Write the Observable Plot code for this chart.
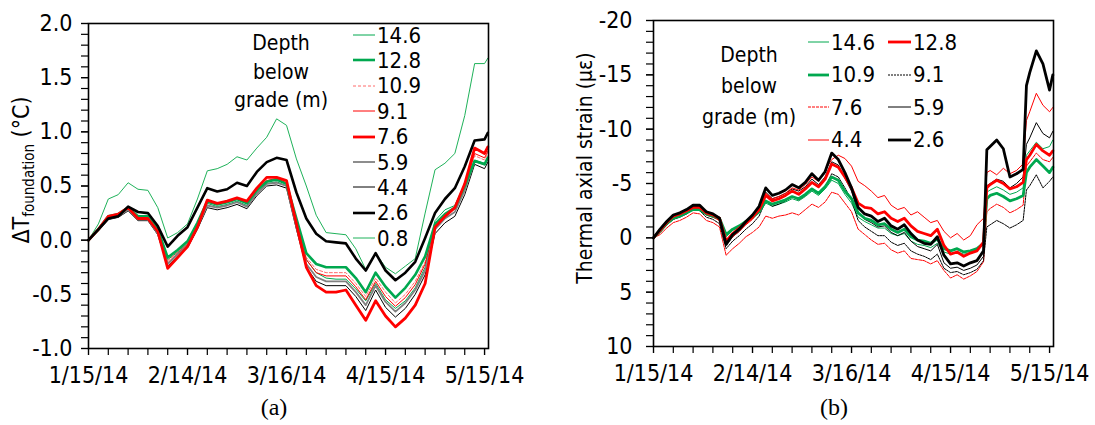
<!DOCTYPE html>
<html><head><meta charset="utf-8">
<script src="https://cdn.jsdelivr.net/npm/d3@7"></script>
<script src="https://cdn.jsdelivr.net/npm/@observablehq/plot@0.6"></script>
<style>
body{margin:0;background:#fff;}
#wrap{position:relative;width:1095px;height:425px;overflow:hidden;font-family:"DejaVu Sans",sans-serif;font-stretch:condensed;color:#000;background:#fff;}
.pan{position:absolute;}
.pan svg{overflow:visible;}
.lg{position:absolute;height:24px;display:flex;align-items:center;font-size:22px;white-space:nowrap;}
.lg svg{margin-right:2px;}
.hd{position:absolute;width:200px;text-align:center;font-size:21px;line-height:1;white-space:nowrap;}
.ttl{position:absolute;white-space:nowrap;transform:translate(-50%,-50%) rotate(-90deg);line-height:1;}
.cap{position:absolute;font-family:"Liberation Serif","Times New Roman",serif;font-stretch:normal;font-size:24px;transform:translateX(-50%);white-space:nowrap;}
</style></head><body><div id="wrap"></div>
<script>
// ---------- data ----------
const xTickLabels = ["1/15/14","2/14/14","3/16/14","4/15/14","5/15/14"];
const yTicksA = [-1, -0.5, 0, 0.5, 1, 1.5, 2];
const yTicksB = [-20, -15, -10, -5, 0, 5, 10];

// panel (a): days after 1/15/14
const daysA = [0,3,6,9,12,15,18,21,24,27,30,33,36,39,42,45,48,51,54,57,60,63,66,69,72,75,78,81,84,87,90,93,96,99,102,105,108,111,114,117,120,121];
const a146 = [0,0.1,0.21,0.23,0.29,0.21,0.21,0.09,-0.18,-0.11,-0.03,0.14,0.34,0.31,0.33,0.36,0.32,0.44,0.52,0.54,0.5,0.16,-0.18,-0.3,-0.35,-0.36,-0.36,-0.45,-0.56,-0.4,-0.55,-0.63,-0.56,-0.44,-0.25,0.18,0.28,0.32,0.52,0.74,0.71,0.77];
const a128 = [0,0.1,0.22,0.24,0.3,0.22,0.22,0.1,-0.16,-0.09,-0.01,0.16,0.36,0.33,0.35,0.38,0.34,0.46,0.54,0.56,0.52,0.2,-0.12,-0.22,-0.25,-0.25,-0.25,-0.35,-0.48,-0.3,-0.43,-0.53,-0.44,-0.32,-0.15,0.15,0.24,0.3,0.5,0.73,0.7,0.76];
const a109 = [0,0.1,0.22,0.24,0.3,0.21,0.21,0.09,-0.19,-0.11,-0.03,0.15,0.35,0.33,0.35,0.38,0.34,0.46,0.55,0.56,0.52,0.17,-0.16,-0.27,-0.3,-0.3,-0.3,-0.4,-0.52,-0.35,-0.48,-0.58,-0.5,-0.38,-0.2,0.14,0.24,0.3,0.52,0.78,0.74,0.8];
const a91 = [0,0.1,0.22,0.24,0.3,0.21,0.21,0.08,-0.21,-0.12,-0.04,0.14,0.35,0.33,0.35,0.38,0.34,0.46,0.55,0.57,0.53,0.16,-0.18,-0.3,-0.33,-0.33,-0.33,-0.43,-0.55,-0.38,-0.52,-0.61,-0.53,-0.41,-0.22,0.13,0.23,0.29,0.5,0.8,0.76,0.82];
const a76 = [0,0.1,0.22,0.24,0.3,0.2,0.2,0.08,-0.26,-0.16,-0.06,0.12,0.37,0.34,0.36,0.39,0.36,0.48,0.58,0.58,0.55,0.15,-0.25,-0.42,-0.48,-0.48,-0.46,-0.6,-0.74,-0.56,-0.7,-0.8,-0.72,-0.6,-0.4,0.12,0.22,0.3,0.52,0.85,0.8,0.86];
const a59 = [0,0.09,0.2,0.22,0.28,0.19,0.19,0.06,-0.22,-0.13,-0.05,0.12,0.32,0.3,0.32,0.35,0.31,0.43,0.52,0.53,0.5,0.12,-0.22,-0.34,-0.38,-0.38,-0.38,-0.48,-0.6,-0.42,-0.57,-0.66,-0.58,-0.46,-0.28,0.1,0.2,0.26,0.46,0.73,0.7,0.75];
const a44 = [0,0.09,0.19,0.21,0.27,0.18,0.18,0.05,-0.24,-0.15,-0.07,0.1,0.3,0.28,0.3,0.33,0.29,0.41,0.5,0.51,0.48,0.1,-0.25,-0.38,-0.42,-0.42,-0.42,-0.52,-0.65,-0.46,-0.62,-0.71,-0.63,-0.5,-0.32,0.06,0.16,0.22,0.42,0.7,0.66,0.72];
const a26 = [0,0.1,0.2,0.22,0.31,0.26,0.25,0.13,-0.06,0.04,0.12,0.3,0.48,0.45,0.47,0.53,0.5,0.63,0.72,0.76,0.74,0.44,0.2,0.06,-0.01,-0.02,-0.03,-0.17,-0.28,-0.12,-0.28,-0.37,-0.3,-0.2,0.02,0.25,0.38,0.48,0.68,0.92,0.93,0.99];
const a08 = [0,0.15,0.38,0.42,0.53,0.47,0.46,0.3,0.02,0.07,0.15,0.38,0.64,0.66,0.7,0.77,0.74,0.85,0.95,1.12,1.06,0.75,0.5,0.23,0.07,0.06,0.05,-0.08,-0.27,-0.12,-0.25,-0.31,-0.24,-0.17,0.25,0.65,0.71,0.8,1.15,1.63,1.63,1.68];

// panel (b): days after 1/15/14
const daysB = [0,2,4,6,8,10,12,14,16,18,20,22,24,26,28,30,32,34,36,38,40,42,44,46,48,50,52,54,56,58,60,62,64,66,68,70,72,74,76,78,80,82,84,86,88,90,92,94,96,98,100,101,102,104,106,108,110,112,113,114,116,118,120,121];
const b146 = [0,-0.6,-1.2,-1.7,-2.0,-2.2,-2.6,-2.5,-2.1,-1.9,-1.7,-0.1,-0.7,-1.0,-1.4,-1.8,-2.3,-3.2,-2.9,-3.1,-3.3,-3.6,-3.4,-3.8,-4.3,-3.9,-4.5,-5.3,-5.0,-4.0,-3.2,-1.9,-1.5,-1.2,-0.9,-0.9,-0.4,-0.2,-0.4,0.3,0.6,0.7,0.9,0.5,1.3,1.5,1.3,1.5,1.4,1.1,0.4,-4.2,-4.4,-4.7,-4.4,-4.0,-4.2,-4.6,-7.6,-8.0,-8.8,-8.2,-8.4,-9.0];
const b128 = [0,-0.7,-1.4,-2.0,-2.2,-2.5,-2.8,-2.8,-2.3,-2.1,-1.8,0.3,-0.4,-0.9,-1.4,-1.9,-2.6,-3.9,-3.4,-3.6,-3.9,-4.3,-4.0,-4.5,-5.1,-4.7,-5.4,-6.8,-6.5,-5.6,-4.6,-3.2,-2.8,-2.7,-2.2,-2.4,-1.8,-1.5,-1.8,-1.1,-0.6,-0.4,-0.2,-0.8,0.7,1.5,1.3,1.7,1.4,1.2,0.4,-4.6,-4.9,-5.3,-5.0,-4.5,-4.7,-5.1,-7.2,-7.6,-8.6,-8.0,-7.6,-8.0];
const b109 = [0,-0.6,-1.3,-1.8,-2.0,-2.3,-2.6,-2.6,-2.2,-2.0,-1.8,-0.3,-0.8,-1.1,-1.5,-1.9,-2.4,-3.4,-3.1,-3.3,-3.5,-3.8,-3.6,-4.0,-4.5,-4.1,-4.7,-5.6,-5.3,-4.3,-3.6,-2.3,-1.8,-1.6,-1.2,-1.3,-0.8,-0.5,-0.8,-0.1,0.2,0.3,0.5,0.1,1.0,1.2,1.0,1.3,1.2,1.0,0.5,-3.6,-3.9,-4.1,-3.8,-3.4,-3.6,-3.9,-6.0,-6.5,-7.2,-6.6,-6.0,-6.5];
const b91 = [0,-0.5,-1.2,-1.7,-1.9,-2.2,-2.6,-2.5,-1.9,-1.7,-1.3,1.0,0.3,-0.2,-0.8,-1.3,-2.0,-3.4,-2.9,-3.1,-3.4,-3.8,-3.5,-3.9,-4.5,-4.1,-4.7,-5.9,-5.6,-4.6,-3.5,-1.6,-1.0,-0.6,-0.2,-0.2,0.4,0.7,0.5,1.2,1.5,1.7,2.0,1.5,2.8,3.2,3.1,3.4,3.2,2.9,2.1,-1.0,-1.2,-1.6,-1.3,-0.9,-1.2,-1.6,-4.4,-4.8,-5.8,-4.6,-5.2,-5.6];
const b76 = [0,-0.3,-0.9,-1.4,-1.6,-1.9,-2.3,-2.2,-1.6,-1.4,-1.0,1.6,1.0,0.5,-0.1,-0.5,-1.0,-2.0,-1.8,-2.0,-2.1,-2.3,-2.1,-2.6,-3.1,-2.8,-3.3,-4.2,-4.0,-3.2,-2.4,-0.8,-0.3,0.2,0.6,0.5,1.1,1.4,1.2,1.9,2.0,2.1,2.4,2.1,3.0,3.7,3.4,3.8,3.5,3.1,2.2,-2.4,-2.7,-3.1,-2.8,-2.3,-2.6,-3.0,-6.6,-7.0,-7.8,-7.2,-7.0,-7.4];
const b59 = [0,-0.8,-1.5,-2.0,-2.2,-2.5,-2.9,-2.9,-2.3,-2.1,-1.7,0.7,-0.1,-0.6,-1.3,-1.9,-2.6,-4.2,-3.6,-3.8,-4.1,-4.5,-4.3,-4.7,-5.4,-4.9,-5.6,-7.0,-6.7,-5.5,-4.3,-2.3,-1.7,-1.4,-1.0,-1.1,-0.5,-0.2,-0.5,0.3,0.8,1.0,1.2,0.6,2.3,2.8,2.7,3.0,2.8,2.5,1.7,-4.8,-5.0,-5.4,-5.2,-4.6,-5.0,-5.6,-8.6,-9.2,-10.6,-9.6,-9.2,-9.8];
const b44 = [0,-0.6,-1.3,-1.9,-2.1,-2.4,-2.7,-2.7,-2.1,-1.9,-1.6,0.6,-0.1,-0.6,-1.2,-1.7,-2.5,-4.1,-3.6,-3.8,-4.1,-4.6,-4.4,-4.9,-5.6,-5.2,-6.2,-7.2,-7.6,-7.3,-6.6,-5.2,-4.8,-4.3,-3.7,-3.9,-3.0,-2.6,-2.8,-2.1,-2.4,-1.9,-1.4,-1.6,-0.6,0.0,-0.4,0.2,-0.2,-1.2,-1.8,-6.0,-6.2,-5.8,-6.4,-5.9,-6.2,-6.8,-10.8,-11.6,-13.3,-12.2,-11.6,-12.0];
const b26 = [0,-0.8,-1.5,-2.1,-2.3,-2.6,-3.0,-3.0,-2.4,-2.2,-1.8,0.6,-0.3,-0.8,-1.5,-2.1,-2.9,-4.6,-3.9,-4.1,-4.4,-4.9,-4.6,-5.1,-5.9,-5.3,-6.1,-7.8,-7.2,-6.0,-4.6,-2.8,-2.2,-2.0,-1.5,-1.8,-1.1,-0.8,-1.2,-0.4,0.2,0.5,0.6,-0.1,1.6,2.4,2.3,2.6,2.3,2.1,1.2,-8.1,-8.4,-9.0,-8.2,-5.6,-5.9,-6.3,-14.0,-15.2,-17.2,-16.0,-13.6,-15.0];

// ---------- series styles ----------
const GREEN = "#00a84f", RED = "#ff0000", PINK = "#ff6a6a", GRAY = "#808080", BLACK = "#000";
const seriesA = [
  {label:"14.6", v:a146, color:GREEN, w:1},
  {label:"12.8", v:a128, color:GREEN, w:2.6},
  {label:"10.9", v:a109, color:PINK, w:1, dash:"3,2"},
  {label:"9.1",  v:a91,  color:RED, w:1},
  {label:"7.6",  v:a76,  color:RED, w:2.8},
  {label:"5.9",  v:a59,  color:GRAY, w:1.8},
  {label:"4.4",  v:a44,  color:BLACK, w:1},
  {label:"2.6",  v:a26,  color:BLACK, w:2.6},
  {label:"0.8",  v:a08,  color:"#1fb25a", w:1}
];
const drawOrderA = ["14.6","10.9","9.1","4.4","5.9","0.8","12.8","7.6","2.6"];
const seriesB = [
  {label:"14.6", v:b146, color:GREEN, w:1},
  {label:"12.8", v:b128, color:RED, w:2.8},
  {label:"10.9", v:b109, color:GREEN, w:2.8},
  {label:"9.1",  v:b91,  color:BLACK, w:1, dash:"2,1"},
  {label:"7.6",  v:b76,  color:RED, w:1, dash:"3,1"},
  {label:"5.9",  v:b59,  color:BLACK, w:1},
  {label:"4.4",  v:b44,  color:RED, w:1},
  {label:"2.6",  v:b26,  color:BLACK, w:2.8}
];
const drawOrderB = ["14.6","7.6","9.1","5.9","4.4","10.9","12.8","2.6"];

// ---------- helpers ----------
const T0 = Date.UTC(2014,0,15), DAY = 864e5;
const parseLbl = s => { const [m,d,y] = s.split("/").map(Number); return new Date(Date.UTC(2000+y, m-1, d)); };
const majorX = xTickLabels.map(parseLbl);
const fmtX = d => `${d.getUTCMonth()+1}/${d.getUTCDate()}/${String(d.getUTCFullYear()).slice(2)}`;
const minorX = d3.range(0, 122, 6).map(k => new Date(T0 + k*DAY));
const xDomain = [new Date(T0), new Date(T0 + 121.2*DAY)];
const FONT = "'DejaVu Sans', sans-serif";

function makePanel({days, series, order, yDomain, reverse, yTicks, yMinor, yFmt, mt, mb, ypad, xpad}) {
  const marks = [];
  for (const lab of order) {
    const s = series.find(q => q.label === lab);
    const data = days.map((d,i) => ({date: new Date(T0 + d*DAY), v: s.v[i]}));
    const o = {x:"date", y:"v", stroke:s.color, strokeWidth:s.w, strokeLinejoin:"round"};
    if (s.dash) o.strokeDasharray = s.dash;
    marks.push(Plot.line(data, o));
  }
  marks.push(Plot.frame({stroke:"#000", strokeWidth:1.6}));
  marks.push(Plot.axisY({ticks:yMinor, tickSize:7, tickFormat:() => "", strokeWidth:1.2}));
  marks.push(Plot.axisY({ticks:yTicks, tickSize:7, tickPadding:ypad, tickFormat:yFmt, strokeWidth:1.2}));
  marks.push(Plot.axisX({ticks:minorX, tickSize:7, tickFormat:() => "", strokeWidth:1.2}));
  marks.push(Plot.axisX({ticks:majorX, tickSize:7, tickPadding:xpad, tickFormat:fmtX, strokeWidth:1.2}));
  return Plot.plot({
    width:500, height:400, marginLeft:88, marginRight:12, marginTop:mt, marginBottom:mb,
    x:{type:"utc", domain:xDomain, label:null},
    y:{domain:yDomain, reverse, label:null},
    style:{fontFamily:FONT, fontSize:"23px", fontStretch:"condensed", background:"transparent", color:"#000", overflow:"visible"},
    marks
  });
}

const wrap = document.getElementById("wrap");
function place(node, left, top) { const d = document.createElement("div"); d.className = "pan"; d.style.left = left+"px"; d.style.top = top+"px"; d.appendChild(node); wrap.appendChild(d); }

place(makePanel({days:daysA, series:seriesA, order:drawOrderA, yDomain:[-1,2], reverse:false,
  yTicks:yTicksA, yMinor:d3.range(-10,21).map(k=>k/10), yFmt:d => d.toFixed(1), mt:23, mb:52, ypad:9, xpad:11}), 0, 0);
place(makePanel({days:daysB, series:seriesB, order:drawOrderB, yDomain:[-20,10], reverse:true,
  yTicks:yTicksB, yMinor:d3.range(-20,11), yFmt:d => String(d), mt:20, mb:54, ypad:14, xpad:11}), 565, 0);

// ---------- legends ----------
function swatch(s, len) {
  const dash = s.dash ? ` stroke-dasharray="${s.dash}"` : "";
  return `<svg width="${len}" height="24"><line x1="0" x2="${len}" y1="12" y2="12" stroke="${s.color}" stroke-width="${s.w}"${dash}/></svg>`;
}
function addItem(s, x, cy, len) {
  const d = document.createElement("div"); d.className = "lg";
  d.style.left = x+"px"; d.style.top = (cy-12)+"px";
  d.innerHTML = swatch(s, len) + `<span>${s.label}</span>`;
  wrap.appendChild(d);
}
function addHead(text, cx, cy) {
  const d = document.createElement("div"); d.className = "hd";
  d.style.left = (cx-100)+"px"; d.style.top = (cy-11)+"px"; d.textContent = text; wrap.appendChild(d);
}
seriesA.forEach((s,i) => addItem(s, 353, 35 + 25.4*i, 22));
["Depth","below","grade (m)"].forEach((t,i) => addHead(t, 281, 44 + 28.5*i));
const colB1 = ["14.6","10.9","7.6","4.4"], colB2 = ["12.8","9.1","5.9","2.6"];
colB1.forEach((l,i) => addItem(seriesB.find(s=>s.label===l), 808, 42 + 32.5*i, 21));
colB2.forEach((l,i) => addItem(seriesB.find(s=>s.label===l), 888, 42 + 32.5*i, 23));
["Depth","below","grade (m)"].forEach((t,i) => addHead(t, 749, 56 + 31*i));

// ---------- axis titles & captions ----------
const tA = document.createElement("div"); tA.className = "ttl";
tA.style.left = "21px"; tA.style.top = "170px"; tA.style.fontSize = "23px";
tA.innerHTML = 'ΔT<span style="font-size:15px;position:relative;top:5px">foundation</span> (°C)';
wrap.appendChild(tA);
const tB = document.createElement("div"); tB.className = "ttl";
tB.style.left = "585px"; tB.style.top = "168px"; tB.style.fontSize = "21px";
tB.textContent = "Thermal axial strain (με)";
wrap.appendChild(tB);
const cA = document.createElement("div"); cA.className = "cap"; cA.style.left = "274px"; cA.style.top = "394px"; cA.textContent = "(a)"; wrap.appendChild(cA);
const cB = document.createElement("div"); cB.className = "cap"; cB.style.left = "834px"; cB.style.top = "394px"; cB.textContent = "(b)"; wrap.appendChild(cB);
</script></body></html>
